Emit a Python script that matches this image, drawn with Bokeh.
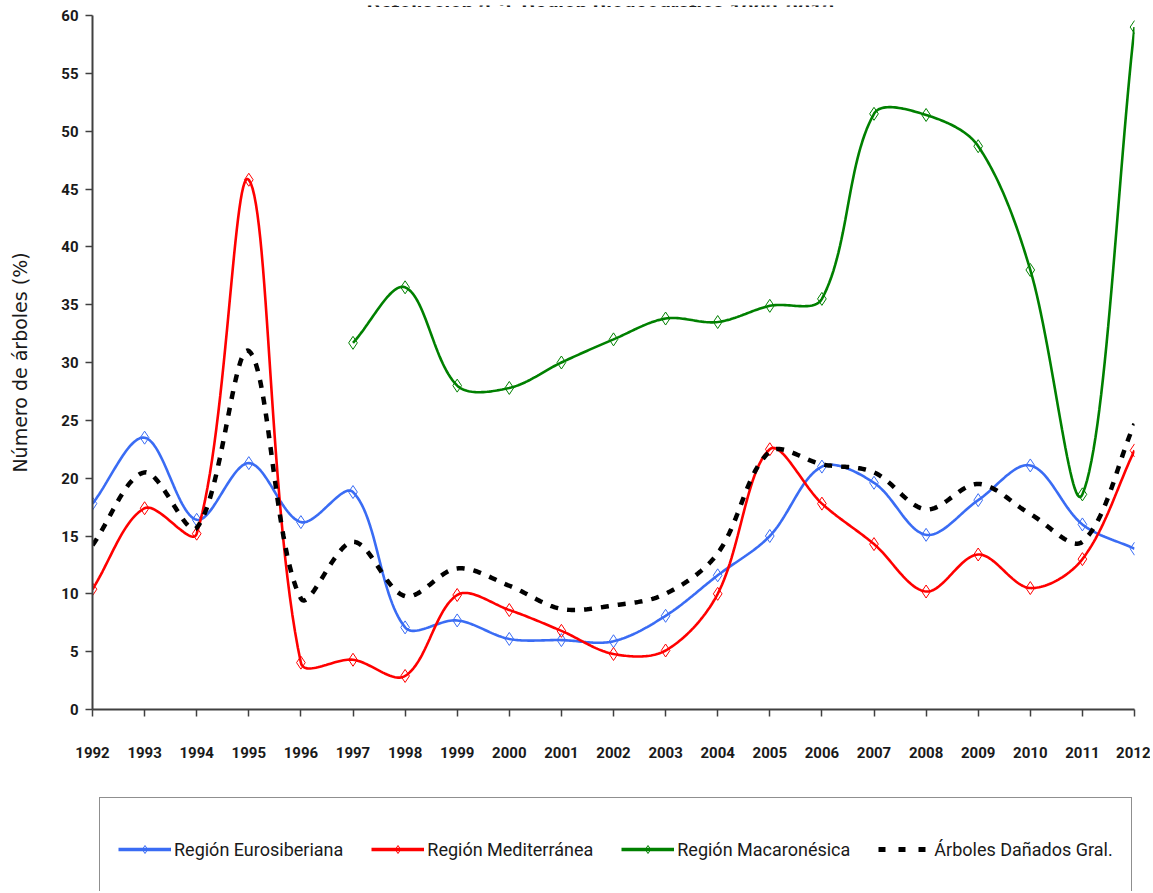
import numpy as np
from bokeh.plotting import figure
from bokeh.layouts import column
from bokeh.models import FixedTicker, Legend, LegendItem, Label, Range1d
from bokeh.embed import file_html
from bokeh.resources import INLINE

# ---------------- data ----------------
years = list(range(1992, 2013))
eurosiberiana = [17.8, 23.5, 16.4, 21.3, 16.2, 18.8, 7.1, 7.7, 6.1, 6.0, 5.9,
                 8.1, 11.6, 15.0, 21.0, 19.6, 15.1, 18.1, 21.1, 16.0, 13.9]
mediterranea = [10.4, 17.4, 15.2, 45.8, 4.05, 4.3, 2.9, 9.9, 8.6, 6.8, 4.8,
                5.1, 10.0, 22.5, 17.8, 14.3, 10.2, 13.4, 10.5, 13.0, 22.4]
macaronesica = [None, None, None, None, None, 31.7, 36.5, 28.0, 27.8, 30.0,
                32.0, 33.8, 33.5, 34.9, 35.5, 51.5, 51.4, 48.7, 38.0, 18.6, 59.0]
danados_gral = [14.2, 20.5, 15.7, 31.0, 9.6, 14.5, 9.8, 12.2, 10.7, 8.7, 9.0,
                10.0, 13.5, 22.3, 21.2, 20.5, 17.3, 19.5, 16.9, 14.5, 24.7]
y_ticks = list(range(0, 61, 5))
series_names = ["Región Eurosiberiana", "Región Mediterránea",
                "Región Macaronésica", "Árboles Dañados Gral."]
title_text = "Defoliación 2-3, Región Biogeográfica 1992-2012"
y_label = "Número de árboles (%)"

TITLE_H = 7
PLOT_W, PLOT_H = 1150, 789
LEG_H = 95
BORDER_L, BORDER_R, BORDER_T, BORDER_B = 92, 16, 8, 87
FRAME_W = PLOT_W - BORDER_L - BORDER_R
FRAME_H = PLOT_H - BORDER_T - BORDER_B
X0, X1, Y0, Y1 = 1992, 2012, 0, 60


def smooth(xs, ys, n=30):
    """Excel-like smoothed line: Bezier segments whose control points are
    weighted by the on-screen lengths of the neighbouring segments."""
    pts = [(x, y) for x, y in zip(xs, ys) if y is not None]
    sxp = FRAME_W / (X1 - X0)
    syp = FRAME_H / (Y1 - Y0)
    P = np.array([(x * sxp, y * syp) for x, y in pts], dtype=float)
    m = len(P)
    c_after = np.zeros_like(P)
    c_before = np.zeros_like(P)
    for i in range(m):
        prev = P[i - 1] if i > 0 else P[i]
        nxt = P[i + 1] if i < m - 1 else P[i]
        T = nxt - prev
        d1 = np.hypot(*(P[i] - prev))
        d2 = np.hypot(*(nxt - P[i]))
        s = d1 + d2 if d1 + d2 > 0 else 1.0
        c_after[i] = P[i] + T * (d2 / s) / 3.0
        c_before[i] = P[i] - T * (d1 / s) / 3.0
    out = []
    for i in range(m - 1):
        p1, c1, c2, p2 = P[i], c_after[i], c_before[i + 1], P[i + 1]
        ts = np.linspace(0, 1, n, endpoint=(i == m - 2))
        for t in ts:
            b = ((1 - t) ** 3) * p1 + 3 * ((1 - t) ** 2) * t * c1 + \
                3 * (1 - t) * t * t * c2 + t ** 3 * p2
            out.append(b)
    out = np.array(out)
    return out[:, 0] / sxp, out[:, 1] / syp


FONT = "Roboto"
colors = ["#3a6cf4", "#ff0000", "#008000"]
data = [eurosiberiana, mediterranea, macaronesica]

# ---------------- title strip (title is cut at the top, as in the source) ---
t = figure(width=PLOT_W, height=TITLE_H, output_backend="svg",
           toolbar_location=None, x_axis_location=None, y_axis_location=None,
           x_range=Range1d(0, 1), y_range=Range1d(0, 1), min_border=0)
t.outline_line_color = None
t.xgrid.visible = False
t.ygrid.visible = False
t.add_layout(Label(x=FRAME_W / 2 - 13, y=3, x_units="screen",
                   y_units="screen", text=title_text, text_font=FONT,
                   text_font_style="bold", text_font_size="21px",
                   text_align="center", text_baseline="alphabetic",
                   text_color="#1a1a1a"))

# ---------------- main chart ----------------
p = figure(width=PLOT_W, height=PLOT_H, output_backend="svg",
           toolbar_location=None,
           x_range=Range1d(X0, X1), y_range=Range1d(Y0, Y1),
           min_border_left=BORDER_L, min_border_right=BORDER_R,
           min_border_top=BORDER_T, min_border_bottom=BORDER_B)
p.outline_line_color = None
p.xgrid.visible = False
p.ygrid.visible = False

for name, vals, col in zip(series_names[:3], data, colors):
    sx, sy = smooth(years, vals)
    p.line(sx, sy, line_color=col, line_width=2.6)
    px = [x for x, v in zip(years, vals) if v is not None]
    py = [v for v in vals if v is not None]
    p.scatter(px, py, marker="diamond", size=13, line_color=col,
              line_width=1, fill_alpha=0)

sx, sy = smooth(years, danados_gral)
p.line(sx, sy, line_color="black", line_width=4.5, line_dash="8 9")

for ax in (p.xaxis[0], p.yaxis[0]):
    ax.axis_line_color = "#404040"
    ax.axis_line_width = 2
    ax.major_tick_line_color = "#404040"
    ax.major_tick_line_width = 1.5
    ax.major_tick_out = 7
    ax.major_tick_in = 0
    ax.minor_tick_out = 0
    ax.minor_tick_in = 0
    ax.major_label_text_font = FONT
    ax.major_label_text_font_style = "bold"
    ax.major_label_text_font_size = "15px"
    ax.major_label_text_color = "#1a1a1a"

p.xaxis.ticker = FixedTicker(ticks=years)
p.xaxis.major_label_standoff = 30
p.yaxis.ticker = FixedTicker(ticks=y_ticks)
p.yaxis.major_label_standoff = 7
p.yaxis.axis_label = y_label
p.yaxis.axis_label_text_font = "DejaVu Sans"
p.yaxis.axis_label_text_font_style = "normal"
p.yaxis.axis_label_text_font_size = "19px"
p.yaxis.axis_label_text_color = "#1a1a1a"
p.yaxis.axis_label_standoff = 27

# ---------------- legend strip ----------------
q = figure(width=PLOT_W, height=LEG_H, output_backend="svg",
           toolbar_location=None, x_axis_location=None, y_axis_location=None,
           x_range=Range1d(0, 1), y_range=Range1d(0, 1), min_border=0)
q.outline_line_color = None
q.xgrid.visible = False
q.ygrid.visible = False

nan = [float("nan")]
items = []
for name, col in zip(series_names[:3], colors):
    lr = q.line(nan, nan, line_color=col, line_width=3.5)
    mr = q.scatter(nan, nan, marker="diamond", size=10, line_color=col,
                   line_width=1, fill_alpha=0)
    items.append(LegendItem(label=name, renderers=[lr, mr]))
br = q.line(nan, nan, line_color="black", line_width=5, line_dash="7 13")
items.append(LegendItem(label=series_names[3], renderers=[br]))

legend = Legend(items=items, orientation="horizontal", location=(7, -10),
                border_line_color="#202020", border_line_width=1.5,
                padding=18, spacing=28, glyph_width=53, glyph_height=20,
                label_height=66, label_standoff=3,
                label_text_font=FONT, label_text_font_size="18px",
                label_text_color="#1a1a1a", background_fill_alpha=1,
                margin=0)
q.add_layout(legend, "center")

layout = column(t, p, q, spacing=0)
open("out.html", "w").write(file_html(layout, INLINE))
